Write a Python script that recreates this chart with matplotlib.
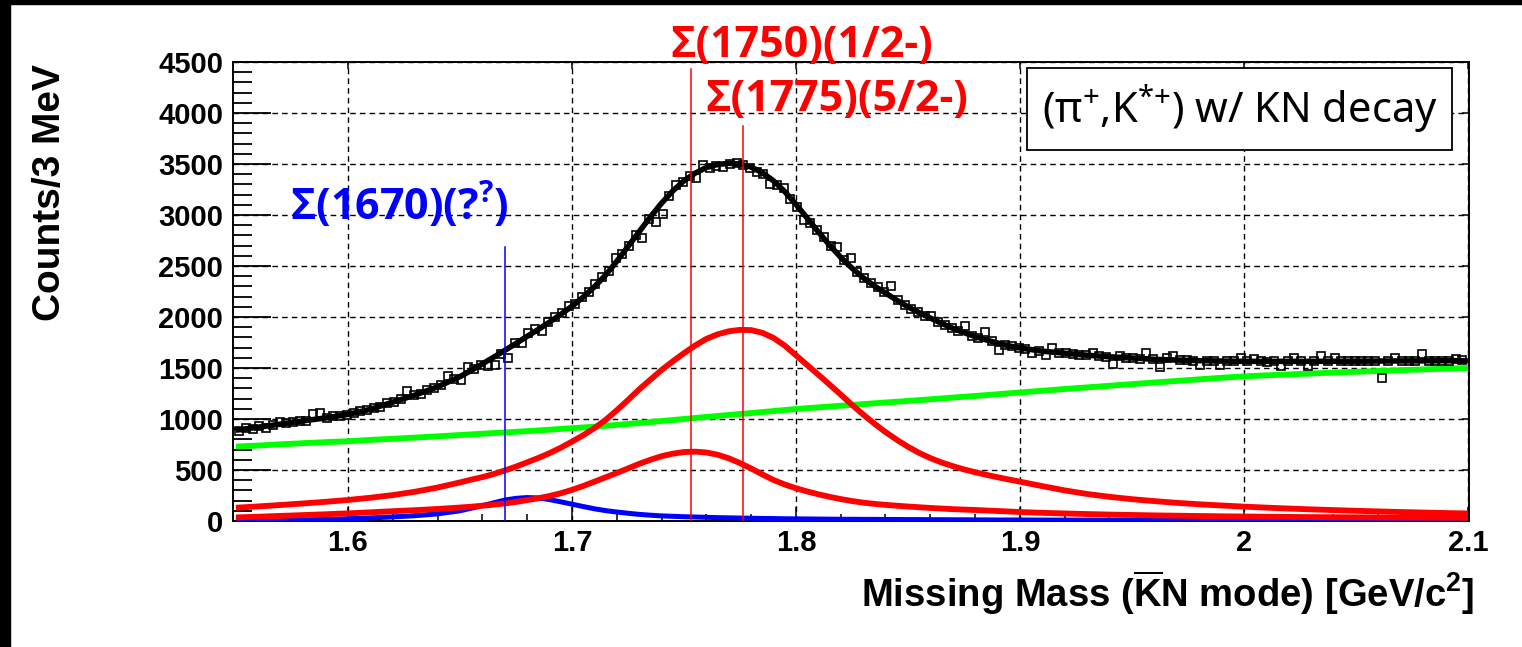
# -*- coding: utf-8 -*-
"""
Missing mass spectrum (KbarN mode) with the fit components
"""

import numpy as np
import matplotlib
matplotlib.use("Agg")
import matplotlib.pyplot as plt
from matplotlib.patches import Rectangle
from matplotlib.ticker import MultipleLocator, FixedLocator, FixedFormatter

plt.rcParams['mathtext.fontset'] = 'custom'
plt.rcParams['mathtext.rm'] = 'Noto Sans'
plt.rcParams['mathtext.bf'] = 'Open Sans:bold'
plt.rcParams['mathtext.sf'] = 'Liberation Sans:bold'

###################################
# data
###################################

# histogram, 3 MeV bins starting at 1.550 GeV
bin_start = 1.550
bin_width = 0.003
counts = [880, 910, 905, 930, 912, 945, 975, 960, 970, 980,
          985, 1050, 1060, 1010, 1025, 1030, 1040, 1060, 1075, 1090,
          1110, 1120, 1155, 1165, 1200, 1275, 1240, 1250, 1285, 1300,
          1335, 1420, 1395, 1385, 1510, 1495, 1530, 1515, 1530, 1640,
          1600, 1745, 1750, 1840, 1880, 1860, 1950, 2000, 2040, 2105,
          2125, 2200, 2245, 2320, 2390, 2455, 2580, 2620, 2700, 2800,
          2770, 2960, 2930, 3010, 3190, 3290, 3325, 3380, 3360, 3490,
          3465, 3480, 3470, 3500, 3505, 3490, 3465, 3420, 3400, 3300,
          3290, 3265, 3160, 3080, 2950, 2920, 2850, 2780, 2700, 2690,
          2560, 2580, 2440, 2380, 2330, 2290, 2245, 2300, 2162, 2120,
          2080, 2050, 2010, 2005, 1950, 1920, 1895, 1865, 1910, 1815,
          1795, 1850, 1760, 1680, 1730, 1715, 1700, 1690, 1650, 1668,
          1625, 1700, 1650, 1645, 1640, 1630, 1625, 1650, 1615, 1612,
          1535, 1620, 1600, 1595, 1592, 1650, 1585, 1505, 1600, 1620,
          1578, 1575, 1572, 1525, 1570, 1568, 1525, 1566, 1565, 1600,
          1565, 1585, 1566, 1560, 1566, 1518, 1565, 1600, 1566, 1518,
          1565, 1620, 1567, 1600, 1566, 1568, 1567, 1570, 1566, 1568,
          1405, 1570, 1600, 1569, 1571, 1570, 1640, 1572, 1571, 1573,
          1572, 1585, 1575]

# background, sampled every 10 MeV
bg_mass = [1.55, 1.56, 1.57, 1.58, 1.59, 1.60, 1.61, 1.62, 1.63, 1.64,
           1.65, 1.66, 1.67, 1.68, 1.69, 1.70, 1.71, 1.72, 1.73, 1.74,
           1.75, 1.76, 1.77, 1.78, 1.79, 1.80, 1.81, 1.82, 1.83, 1.84,
           1.85, 1.86, 1.87, 1.88, 1.89, 1.90, 1.91, 1.92, 1.93, 1.94,
           1.95, 1.96, 1.97, 1.98, 1.99, 2.00, 2.01, 2.02, 2.03, 2.04,
           2.05, 2.06, 2.07, 2.08, 2.09, 2.10]
fit_bg = [730, 740, 752, 763, 773, 782, 795, 806, 818, 830,
          843, 856, 868, 881, 895, 910, 925, 942, 960, 980,
          1000, 1020, 1040, 1058, 1078, 1098, 1114, 1130, 1146, 1162,
          1177, 1193, 1210, 1226, 1243, 1260, 1277, 1294, 1310, 1326,
          1342, 1358, 1373, 1389, 1404, 1418, 1428, 1437, 1446, 1455,
          1463, 1471, 1479, 1486, 1493, 1500]

# peak curves: 10 MeV steps in the tails, 5 MeV steps over the peak region
fit_mass = [1.55, 1.56, 1.57, 1.58, 1.59, 1.60, 1.61, 1.62, 1.63, 1.64, 1.65,
            1.655, 1.66, 1.665, 1.67, 1.675, 1.68, 1.685, 1.69, 1.695, 1.70,
            1.705, 1.71, 1.715, 1.72, 1.725, 1.73, 1.735, 1.74, 1.745, 1.75,
            1.755, 1.76, 1.765, 1.77, 1.775, 1.78, 1.785, 1.79, 1.795, 1.80,
            1.805, 1.81, 1.815, 1.82, 1.825, 1.83, 1.835, 1.84, 1.845, 1.85,
            1.855, 1.86, 1.865, 1.87, 1.875, 1.88, 1.885, 1.89, 1.895,
            1.90, 1.91, 1.92, 1.93, 1.94, 1.95, 1.96, 1.97, 1.98, 1.99, 2.00,
            2.01, 2.02, 2.03, 2.04, 2.05, 2.06, 2.07, 2.08, 2.09, 2.10]

fit_total = [890, 920, 950, 982, 1010, 1045, 1095, 1165, 1235, 1315, 1415,
             1475, 1540, 1605, 1672, 1740, 1810, 1878, 1950, 2025, 2105,
             2195, 2295, 2410, 2545, 2690, 2835, 2980, 3115, 3235, 3335,
             3410, 3465, 3495, 3507, 3500, 3470, 3415, 3335, 3230, 3105,
             2970, 2835, 2705, 2585, 2480, 2385, 2305, 2235, 2165, 2100,
             2043, 1990, 1938, 1890, 1847, 1808, 1775, 1745, 1718,
             1696, 1665, 1645, 1625, 1610, 1598, 1585, 1578, 1572, 1568, 1565,
             1565, 1565, 1565, 1566, 1567, 1568, 1569, 1570, 1571, 1572]

fit_s1775 = [130, 143, 157, 172, 188, 206, 228, 254, 287, 328, 378,
             405, 430, 460, 495, 533, 575, 618, 665, 718, 778,
             840, 910, 990, 1085, 1185, 1290, 1385, 1480, 1565, 1645,
             1720, 1785, 1830, 1860, 1874, 1872, 1845, 1795, 1720, 1625,
             1530, 1435, 1338, 1240, 1140, 1045, 955, 872, 797, 728,
             668, 617, 574, 538, 506, 478, 453, 429, 407,
             386, 342, 300, 265, 237, 214, 195, 178, 164, 152, 141,
             131, 122, 114, 107, 100, 94, 88, 83, 78, 74]

fit_s1750 = [35, 42, 50, 58, 66, 75, 85, 96, 106, 118, 132,
             140, 150, 160, 172, 187, 205, 223, 245, 272, 305,
             343, 385, 428, 470, 515, 560, 600, 635, 660, 676,
             680, 672, 650, 615, 568, 515, 457, 402, 358, 321,
             290, 262, 237, 215, 196, 180, 168, 158, 150, 142,
             135, 128, 122, 116, 112, 108, 103, 98, 93,
             88, 80, 74, 68, 63, 59, 55, 52, 49, 46, 44,
             42, 40, 38, 37, 36, 35, 34, 33, 32, 31]

fit_s1670 = [2, 4, 6, 10, 15, 22, 30, 40, 52, 70, 100,
             125, 150, 178, 205, 222, 230, 226, 210, 188, 165,
             142, 120, 102, 88, 76, 65, 57, 50, 46, 42,
             39, 36, 33, 31, 29, 27, 25, 24, 22, 21,
             20, 19, 18, 17, 17, 16, 16, 15, 15, 14,
             14, 13, 13, 12, 12, 11, 11, 10, 10,
             10, 9, 9, 9, 8, 8, 8, 7, 7, 7, 7,
             6, 6, 6, 6, 6, 5, 5, 5, 5, 5]

# resonance markers: mass, top of the line
mark_mass = [1.670, 1.753, 1.7765]
mark_top = [2690, 4430, 3870]
mark_color = ['#0000ff', '#ff0000', '#ff0000']

x_ticks = [1.6, 1.7, 1.8, 1.9, 2.0, 2.1]
x_labels = ['1.6', '1.7', '1.8', '1.9', '2', '2.1']

###################################
# figure
###################################

fig = plt.figure(figsize=(15.22, 6.47), dpi=100)
fig.patch.set_facecolor('white')
fig.patches.append(Rectangle((0, 1 - 4 / 647.), 1, 4 / 647., transform=fig.transFigure,
                             color='black', zorder=0))
fig.patches.append(Rectangle((0, 0), 10 / 1522., 1, transform=fig.transFigure,
                             color='black', zorder=0))

ax = fig.add_axes([233 / 1522., 1 - 521 / 647., 1236 / 1522., 459 / 647.])

bins = bin_start + bin_width * (np.arange(len(counts)) + 0.5)

ax.plot(bg_mass, fit_bg, color='#00ff00', lw=4.2, zorder=3, solid_capstyle='butt')
ax.plot(fit_mass, fit_s1670, color='#0000ff', lw=3.6, zorder=3.1, solid_capstyle='butt')
ax.plot(fit_mass, fit_s1750, color='#ff0000', lw=4.2, zorder=3.2, solid_capstyle='butt')
ax.plot(fit_mass, fit_s1775, color='#ff0000', lw=4.2, zorder=3.2, solid_capstyle='butt')
ax.plot(fit_mass, fit_total, color='black', lw=4.0, zorder=3.3, solid_capstyle='butt')
ax.plot(bins, counts, ls='none', marker='s', ms=6.3, mfc='none', mec='black',
        mew=1.2, zorder=3.4)

for m, top, c in zip(mark_mass, mark_top, mark_color):
    ax.plot([m, m], [0, top], color=c, lw=1.1, zorder=4)

ax.set_xlim(1.5487, 2.1005)
ax.set_ylim(0, 4500)

ax.xaxis.set_major_locator(FixedLocator(x_ticks))
ax.xaxis.set_major_formatter(FixedFormatter(x_labels))
ax.xaxis.set_minor_locator(MultipleLocator(0.02))
ax.yaxis.set_major_locator(MultipleLocator(500))
ax.yaxis.set_minor_locator(MultipleLocator(100))

ax.tick_params(axis='x', which='major', direction='in', length=10, width=1.1, pad=6)
ax.tick_params(axis='x', which='minor', direction='in', length=5, width=1.1)
ax.tick_params(axis='y', which='major', direction='in', length=27, width=1.3, pad=7)
ax.tick_params(axis='y', which='minor', direction='in', length=13.5, width=1.3)
for lab in ax.get_xticklabels() + ax.get_yticklabels():
    lab.set_fontfamily('Liberation Sans')
    lab.set_fontweight('bold')
    lab.set_fontsize(21)

sec_y = ax.secondary_yaxis('right')
sec_y.yaxis.set_major_locator(MultipleLocator(500))
sec_y.tick_params(direction='in', length=5, width=1.1, labelright=False)
sec_x = ax.secondary_xaxis('top')
sec_x.xaxis.set_major_locator(FixedLocator(x_ticks))
sec_x.tick_params(direction='in', length=5, width=1.1, labeltop=False)
for s in list(sec_y.spines.values()) + list(sec_x.spines.values()):
    s.set_visible(False)

ax.grid(True, which='major', color='black', ls=(0, (4, 3)), lw=1.0, zorder=1)
ax.set_axisbelow(True)
for s in ax.spines.values():
    s.set_linewidth(1.4)

# axis titles
fig.text(50 / 1522., 1 - 193 / 647., 'Counts/3 MeV', rotation=90, ha='center', va='center',
         fontsize=28, fontweight='bold', family='Liberation Sans')
fig.text(1474 / 1522., 1 - 593 / 647.,
         r'Missing Mass ($\mathsf{\overline{K}}$N mode) [GeV/c$^{\mathsf{2}}$]',
         ha='right', va='center', fontsize=27.5, fontweight='bold', family='Liberation Sans')

# resonance labels
ax.text(1.7438, 4660, u'Σ(1750)(1/2-)', color='#ff0000', fontsize=31, fontweight='bold',
        family='Open Sans', ha='left', va='center', clip_on=False)
ax.text(1.7594, 4130, u'Σ(1775)(5/2-)', color='#ff0000', fontsize=31, fontweight='bold',
        family='Open Sans', ha='left', va='center', zorder=5)
ax.text(1.5741, 3100, u'Σ(1670)(?$^{\\mathbf{?}}$)', color='#0000ff', fontsize=31,
        fontweight='bold', family='Open Sans', ha='left', va='center', zorder=5)

ax.text(1.9982, 4037, u'(π$^{+}$,K$^{*{+}}$) w/ KN decay', fontsize=30, family='Noto Sans',
        ha='center', va='center', zorder=6,
        bbox=dict(boxstyle='square,pad=0.35', fc='white', ec='black', lw=1.3))

plt.savefig('out.png', dpi=100)
